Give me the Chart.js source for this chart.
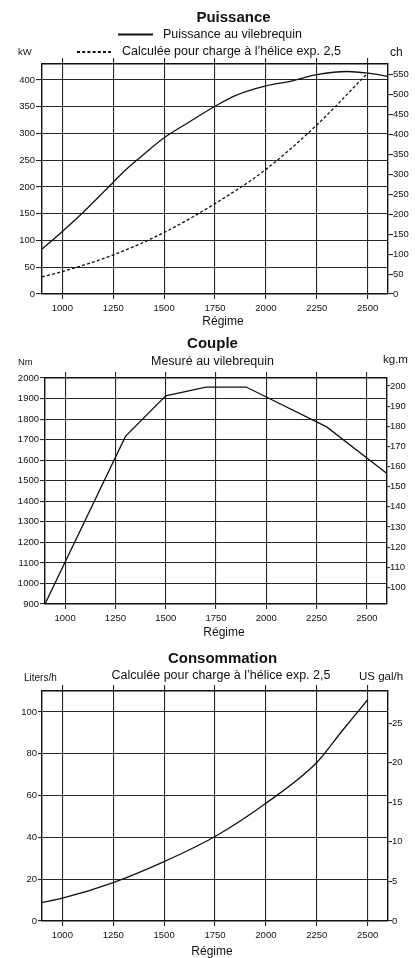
<!DOCTYPE html>
<html><head><meta charset="utf-8">
<script src="https://cdn.jsdelivr.net/npm/chart.js@4.4.1/dist/chart.umd.min.js"></script>
<style>
html,body{margin:0;padding:0;background:#fff;}
body{width:417px;height:958px;position:relative;overflow:hidden;}
.box{position:absolute;left:0;width:417px;}
</style></head><body>
<div class="box" style="top:0;height:330px"><canvas id="c1"></canvas></div>
<div class="box" style="top:330px;height:310px"><canvas id="c2"></canvas></div>
<div class="box" style="top:640px;height:318px"><canvas id="c3"></canvas></div>
<script>
// ---------- data ----------
const rpmMin = 900, rpmMax = 2600;
const rpmTicks = [1000, 1250, 1500, 1750, 2000, 2250, 2500];
const xTitle = 'Régime';

const powerTitle = 'Puissance';
const powerLegend = ['Puissance au vilebrequin', 'Calculée pour charge à l’hélice exp. 2,5'];
const powerUnits = ['kW', 'ch'];
const powerRpm = [900, 1000, 1100, 1250, 1300, 1375, 1500, 1625, 1750, 1850, 2000, 2125, 2250, 2400, 2500, 2600];
const powerKw  = [84, 117, 152, 209, 228, 253, 292, 322, 351, 371, 389, 398, 410, 416, 413, 407];
const propRpm  = [900, 1000, 1250, 1500, 1750, 2000, 2250, 2500];
const propKw   = [32, 42, 73, 115, 169, 233, 316, 413];
const kwTicks  = [0, 50, 100, 150, 200, 250, 300, 350, 400];
const chTicks  = [0, 50, 100, 150, 200, 250, 300, 350, 400, 450, 500, 550];
const powerRange = [0, 430];
const chPerKw = 1.341;

const torqueTitle = 'Couple';
const torqueSub = 'Mesuré au vilebrequin';
const torqueUnits = ['Nm', 'kg.m'];
const torqueRpm = [900, 1300, 1500, 1700, 1900, 2300, 2600];
const torqueNm  = [900, 1716, 1913, 1956, 1956, 1762, 1535];
const nmTicks   = [900, 1000, 1100, 1200, 1300, 1400, 1500, 1600, 1700, 1800, 1900, 2000];
const kgmTicks  = [100, 110, 120, 130, 140, 150, 160, 170, 180, 190, 200];
const torqueRange = [900, 2000];
const nmPerKgm = 9.80665;

const fuelTitle = 'Consommation';
const fuelSub = 'Calculée pour charge à l’hélice exp. 2,5';
const fuelUnits = ['Liters/h', 'US gal/h'];
const fuelRpm = [900, 1000, 1250, 1500, 1750, 2000, 2250, 2375, 2500];
const fuelLh  = [8.8, 10.9, 18.4, 28.4, 40.4, 56.3, 75.8, 91, 105.8];
const lhTicks  = [0, 20, 40, 60, 80, 100];
const galTicks = [0, 5, 10, 15, 20, 25];
const fuelRange = [0, 110];
const litersPerGal = 3.785;

// ---------- helpers ----------
const FONT = '"Liberation Sans", Arial, Helvetica, sans-serif';
const INK = '#111';
const GRID = '#262626';
const pts = (xs, ys) => xs.map((x, i) => ({x, y: ys[i]}));
const setTicks = arr => (s => { s.ticks = arr.map(v => ({value: v})); });

const headerPlugin = {
  id: 'header',
  afterDraw(chart, args, opts) {
    const ctx = chart.ctx;
    ctx.save();
    (opts.items || []).forEach(it => {
      ctx.font = it.font;
      ctx.fillStyle = INK;
      ctx.textAlign = it.align || 'center';
      ctx.textBaseline = 'middle';
      ctx.fillText(it.text, it.x, it.y);
    });
    (opts.samples || []).forEach(s => {
      const ds = chart.data.datasets[s.dataset];
      ctx.beginPath();
      ctx.setLineDash(ds.borderDash || []);
      ctx.lineWidth = s.width;
      ctx.strokeStyle = ds.borderColor;
      ctx.moveTo(s.x1, s.y); ctx.lineTo(s.x2, s.y); ctx.stroke();
    });
    ctx.restore();
  }
};

function makeScales(cfg) {
  const tickFont = {family: FONT, size: 9.5};
  return {
    x: {
      type: 'linear', position: 'bottom', min: rpmMin, max: rpmMax,
      afterBuildTicks: setTicks(rpmTicks),
      ticks: {color: INK, font: tickFont, padding: cfg.xPad, maxRotation: 0, autoSkip: false,
              callback: v => String(v)},
      grid: {color: GRID, lineWidth: 1.1, tickLength: 5, drawTicks: true},
      border: {color: INK, width: 1.4},
      afterFit: s => { s.height = cfg.xH; }
    },
    xTop: {
      type: 'linear', position: 'top', min: rpmMin, max: rpmMax,
      afterBuildTicks: setTicks(rpmTicks),
      ticks: {display: false},
      grid: {color: GRID, lineWidth: 1.1, tickLength: 6, drawOnChartArea: false},
      border: {color: INK, width: 1.4},
      afterFit: s => { s.height = 6; }
    },
    y: {
      type: 'linear', position: 'left', min: cfg.left.range[0], max: cfg.left.range[1],
      afterBuildTicks: setTicks(cfg.left.ticks),
      ticks: {color: INK, font: tickFont, padding: 1, autoSkip: false, callback: v => String(v)},
      grid: {color: GRID, lineWidth: 1.1, tickLength: cfg.yTl},
      border: {color: INK, width: 1.4},
      afterFit: s => { s.width = cfg.leftW; }
    },
    yRight: {
      type: 'linear', position: 'right', min: cfg.right.range[0], max: cfg.right.range[1],
      afterBuildTicks: setTicks(cfg.right.ticks),
      ticks: {color: INK, font: tickFont, padding: 0, autoSkip: false, callback: v => String(v)},
      grid: {color: GRID, lineWidth: 1.1, tickLength: cfg.rTl, drawOnChartArea: false},
      border: {color: INK, width: 1.4},
      afterFit: s => { s.width = cfg.rightW; }
    }
  };
}

function lineDs(data, dash) {
  return {
    data, borderColor: INK, borderWidth: 1.3, borderDash: dash || [],
    pointRadius: 0, fill: false, cubicInterpolationMode: 'monotone', yAxisID: 'y', xAxisID: 'x'
  };
}

Chart.defaults.font.family = FONT;
Chart.defaults.animation = false;

// ---------- chart 1: Puissance ----------
new Chart(document.getElementById('c1'), {
  type: 'line',
  data: {datasets: [
    lineDs(pts(powerRpm, powerKw)),
    lineDs(pts(propRpm, propKw), [3, 2.2])
  ]},
  options: {
    responsive: true, maintainAspectRatio: false, animation: false,
    layout: {padding: {top: 58, bottom: 0, left: 0, right: 0}},
    scales: makeScales({
      xPad: 4, xH: 36, leftW: 42, rightW: 29, yTl: 6, rTl: 5,
      left: {range: powerRange, ticks: kwTicks},
      right: {range: powerRange.map(v => v * chPerKw), ticks: chTicks}
    }),
    plugins: {
      legend: {display: false}, tooltip: {enabled: false},
      header: {
        items: [
          {text: powerTitle, x: 233.5, y: 18, font: 'bold 15px ' + FONT},
          {text: powerLegend[0], x: 163, y: 34.5, font: '12.5px ' + FONT, align: 'left'},
          {text: powerLegend[1], x: 122, y: 52, font: '12.5px ' + FONT, align: 'left'},
          {text: powerUnits[0], x: 18, y: 52, font: '9.5px ' + FONT, align: 'left'},
          {text: powerUnits[1], x: 390, y: 53, font: '12px ' + FONT, align: 'left'},
          {text: xTitle, x: 223, y: 322, font: '12px ' + FONT}
        ],
        samples: [
          {dataset: 0, x1: 118, x2: 153, y: 34.5, width: 2},
          {dataset: 1, x1: 77, x2: 111, y: 52, width: 1.8}
        ]
      }
    }
  },
  plugins: [headerPlugin]
});

// ---------- chart 2: Couple ----------
new Chart(document.getElementById('c2'), {
  type: 'line',
  data: {datasets: [
    Object.assign(lineDs(pts(torqueRpm, torqueNm)), {cubicInterpolationMode: 'default', tension: 0})
  ]},
  options: {
    responsive: true, maintainAspectRatio: false, animation: false,
    layout: {padding: {top: 42, bottom: 0, left: 0, right: 0}},
    scales: makeScales({
      xPad: 4, xH: 36, leftW: 45, rightW: 30, yTl: 5, rTl: 3,
      left: {range: torqueRange, ticks: nmTicks},
      right: {range: torqueRange.map(v => v / nmPerKgm), ticks: kgmTicks}
    }),
    plugins: {
      legend: {display: false}, tooltip: {enabled: false},
      header: {
        items: [
          {text: torqueTitle, x: 212.5, y: 14, font: 'bold 15px ' + FONT},
          {text: torqueSub, x: 212.5, y: 32, font: '12.5px ' + FONT},
          {text: torqueUnits[0], x: 18, y: 32, font: '9.5px ' + FONT, align: 'left'},
          {text: torqueUnits[1], x: 383, y: 30, font: '11.5px ' + FONT, align: 'left'},
          {text: xTitle, x: 224, y: 303, font: '12px ' + FONT}
        ]
      }
    }
  },
  plugins: [headerPlugin]
});

// ---------- chart 3: Consommation ----------
new Chart(document.getElementById('c3'), {
  type: 'line',
  data: {datasets: [
    lineDs(pts(fuelRpm, fuelLh))
  ]},
  options: {
    responsive: true, maintainAspectRatio: false, animation: false,
    layout: {padding: {top: 45, bottom: 0, left: 0, right: 0}},
    scales: makeScales({
      xPad: 4, xH: 37, leftW: 42, rightW: 29, yTl: 4, rTl: 4,
      left: {range: fuelRange, ticks: lhTicks},
      right: {range: fuelRange.map(v => v / litersPerGal), ticks: galTicks}
    }),
    plugins: {
      legend: {display: false}, tooltip: {enabled: false},
      header: {
        items: [
          {text: fuelTitle, x: 222.5, y: 19, font: 'bold 15px ' + FONT},
          {text: fuelSub, x: 221, y: 35.5, font: '12.5px ' + FONT},
          {text: fuelUnits[0], x: 24, y: 38, font: '10px ' + FONT, align: 'left'},
          {text: fuelUnits[1], x: 359, y: 37, font: '11.5px ' + FONT, align: 'left'},
          {text: xTitle, x: 212, y: 312, font: '12px ' + FONT}
        ]
      }
    }
  },
  plugins: [headerPlugin]
});
</script>
</body></html>
